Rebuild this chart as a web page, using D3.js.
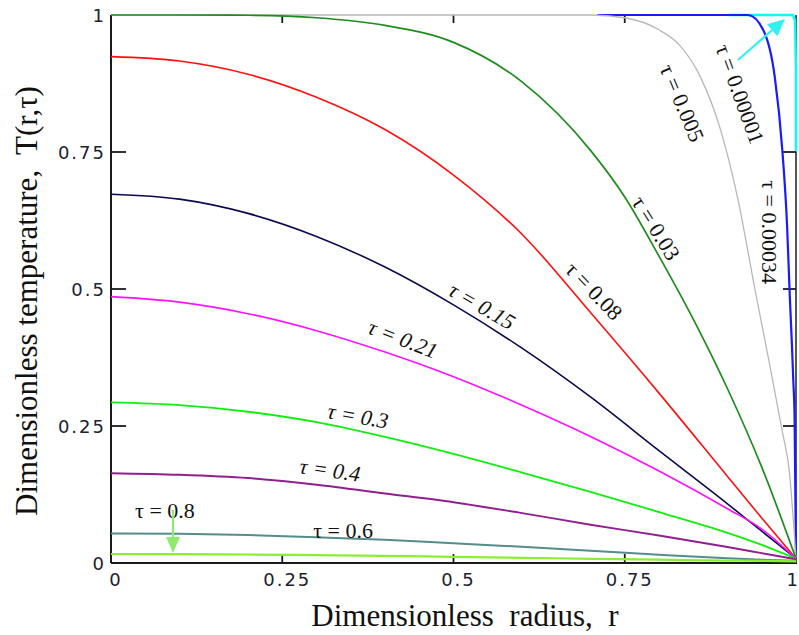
<!DOCTYPE html>
<html><head><meta charset="utf-8">
<script src="https://cdn.jsdelivr.net/npm/d3@7"></script>
<style>body{margin:0;background:#fff}svg{display:block}</style>
</head><body>
<svg id="c" width="799" height="635"></svg>
<script>
// ---- data (r = dimensionless radius, T = temperature) ----
const tauLabels = ["0.00001","0.00034","0.005","0.03","0.08","0.15","0.21","0.3","0.4","0.6","0.8"];

const r_t00001 = [0.9, 0.9955, 0.9985, 1, 1];
const T_t00001 = [1, 1, 0.99, 0.9, 0.75];

const r_t00034 = [0.71, 0.93, 0.952, 0.969, 0.98, 0.987, 0.991, 0.994, 0.996, 0.998, 1];
const T_t00034 = [1, 1, 0.973, 0.887, 0.754, 0.615, 0.485, 0.40, 0.335, 0.261, 0.009];

const r_t0005 = [0, 0.7, 0.75, 0.8, 0.83, 0.86, 0.89, 0.915, 0.94, 0.96, 0.98, 0.99, 1];
const T_t0005 = [1, 1, 0.995, 0.973, 0.945, 0.888, 0.79, 0.665, 0.50, 0.372, 0.24, 0.17, 0.008];

const r_t003 = [0, 0.1, 0.2, 0.3, 0.4, 0.5, 0.6, 0.7, 0.75, 0.8, 0.85, 0.9, 0.95, 1];
const T_t003 = [1, 1, 0.9995, 0.995, 0.981, 0.950, 0.878, 0.753, 0.668, 0.560, 0.445, 0.318, 0.175, 0.008];

const rGrid = [0, 0.1, 0.2, 0.3, 0.4, 0.5, 0.6, 0.7, 0.8, 0.9, 0.95, 1];
const T_t008 = [0.924, 0.916, 0.892, 0.850, 0.791, 0.708, 0.600, 0.457, 0.310, 0.158, 0.082, 0.008];
const T_t015 = [0.673, 0.664, 0.638, 0.596, 0.540, 0.471, 0.392, 0.303, 0.205, 0.108, 0.058, 0.008];
const T_t021 = [0.486, 0.476, 0.455, 0.424, 0.385, 0.340, 0.288, 0.231, 0.168, 0.099, 0.062, 0.008];
const T_t03  = [0.293, 0.288, 0.276, 0.257, 0.230, 0.199, 0.165, 0.130, 0.093, 0.055, 0.033, 0.008];
const T_t04  = [0.164, 0.161, 0.155, 0.143, 0.127, 0.111, 0.091, 0.070, 0.050, 0.029, 0.018, 0.007];
const T_t06  = [0.054, 0.0533, 0.051, 0.047, 0.0425, 0.036, 0.0295, 0.0225, 0.015, 0.0085, 0.006, 0.004];
const T_t08  = [0.0164, 0.0162, 0.0155, 0.0145, 0.013, 0.0113, 0.0095, 0.0077, 0.006, 0.0045, 0.004, 0.003];

const xTicks = [0, 0.25, 0.5, 0.75, 1];
const xTickLabels = ["0", "0.25", "0.5", "0.75", "1"];
const yTicks = [0, 0.25, 0.5, 0.75, 1];
const yTickLabels = ["0", "0.25", "0.5", "0.75", "1"];

const xTitle = "Dimensionless  radius,  r";
const yTitle = "Dimensionless temperature,  T(r,\u03C4)";

// ---- styles (drawing order: first drawn at bottom) ----
const seriesDefs = [
  {r: r_t00034, T: T_t00034, color: "#1a1aff", w: 2.2},
  {r: r_t0005,  T: T_t0005,  color: "#b8b8b8", w: 1.3},
  {r: r_t003,   T: T_t003,   color: "#1e8c1e", w: 1.7},
  {r: rGrid,    T: T_t008,   color: "#ff1010", w: 1.6},
  {r: rGrid,    T: T_t015,   color: "#0a0a50", w: 1.6},
  {r: rGrid,    T: T_t021,   color: "#ff10ff", w: 1.6},
  {r: rGrid,    T: T_t03,    color: "#10ee10", w: 1.8},
  {r: rGrid,    T: T_t04,    color: "#902090", w: 2.0},
  {r: rGrid,    T: T_t06,    color: "#558c8c", w: 2.0},
  {r: rGrid,    T: T_t08,    color: "#88f030", w: 2.2}
];

const labelDefs = [
  {i: 0, r: 0.9182, T: 0.8558, a: 70, it: false},
  {i: 1, r: 0.962,  T: 0.604,  a: 90, it: false},
  {i: 2, r: 0.8336, T: 0.8394, a: 67, it: false},
  {i: 3, r: 0.7956, T: 0.6113, a: 58, it: false},
  {i: 4, r: 0.7051, T: 0.4964, a: 46, it: false},
  {i: 5, r: 0.5416, T: 0.469,  a: 30, it: true},
  {i: 6, r: 0.4263, T: 0.4088, a: 21, it: true},
  {i: 7, r: 0.3606, T: 0.2682, a: 10, it: true},
  {i: 8, r: 0.3197, T: 0.1697, a: 8,  it: true},
  {i: 9, r: 0.3387, T: 0.0602, a: 0,  it: false},
  {i: 10, r: 0.0788, T: 0.0949, a: 0, it: false}
];

const svg = d3.select("#c");
svg.append("rect").attr("width", 799).attr("height", 635).attr("fill", "#fff");

const x = d3.scaleLinear().domain([0, 1]).range([111, 796]);
const y = d3.scaleLinear().domain([0, 1]).range([563, 15]);

const line = d3.line().x((d) => x(d[0])).y((d) => y(d[1])).curve(d3.curveMonotoneX);
const lineLin = d3.line().x((d) => x(d[0])).y((d) => y(d[1]));

// axes lines (left, bottom, right)
const axisCol = "#1a1a1a";
svg.append("line").attr("x1", x(0)).attr("x2", x(0)).attr("y1", y(1)).attr("y2", y(0)).attr("stroke", axisCol).attr("stroke-width", 2);
svg.append("line").attr("x1", x(0)).attr("x2", x(1) + 1).attr("y1", y(0)).attr("y2", y(0)).attr("stroke", axisCol).attr("stroke-width", 2);
svg.append("line").attr("x1", x(1)).attr("x2", x(1)).attr("y1", y(1)).attr("y2", y(0)).attr("stroke", "#444").attr("stroke-width", 1.8);

// tau = 0.00001 (near-step profile), drawn beneath the other curves
svg.append("path").attr("d", lineLin(r_t00001.map((rv, k) => [rv, T_t00001[k]])))
  .attr("fill", "none").attr("stroke", "#00ffff").attr("stroke-width", 2.4);

// inner ticks
const g = svg.append("g").attr("stroke", axisCol).attr("stroke-width", 1.8);
yTicks.filter((v) => v > 0 && v < 1).forEach((v) => {
  g.append("line").attr("x1", x(0)).attr("x2", x(0) + 15).attr("y1", y(v)).attr("y2", y(v));
  g.append("line").attr("x1", x(1)).attr("x2", x(1) - 13).attr("y1", y(v)).attr("y2", y(v));
});
xTicks.filter((v) => v > 0 && v < 1).forEach((v) => {
  g.append("line").attr("x1", x(v)).attr("x2", x(v)).attr("y1", y(0)).attr("y2", y(0) - 9);
  g.append("line").attr("x1", x(v)).attr("x2", x(v)).attr("y1", y(1)).attr("y2", y(1) + 8);
});

// curves
seriesDefs.forEach((s) => {
  const pts = s.r.map((rv, k) => [rv, s.T[k]]);
  svg.append("path").attr("d", line(pts)).attr("fill", "none")
    .attr("stroke", s.color).attr("stroke-width", s.w).attr("stroke-linejoin", "round");
});

// tick labels
const tf = "'DejaVu Sans', Verdana, sans-serif";
xTicks.forEach((v, k) => {
  const last = k === xTicks.length - 1;
  svg.append("text").attr("x", last ? 800 : x(v) + 5).attr("y", 586)
    .attr("text-anchor", last ? "end" : "middle")
    .attr("font-family", tf).attr("font-size", 18).attr("letter-spacing", 2).attr("fill", "#202030")
    .text(xTickLabels[k]);
});
yTicks.forEach((v, k) => {
  svg.append("text").attr("x", 106).attr("y", y(v) + 7).attr("text-anchor", "end")
    .attr("font-family", tf).attr("font-size", 18).attr("letter-spacing", 2).attr("fill", "#202030")
    .text(yTickLabels[k]);
});

// axis titles
const sf = "'Liberation Serif', 'Times New Roman', serif";
svg.append("text").attr("x", 465).attr("y", 626).attr("text-anchor", "middle")
  .attr("font-family", sf).attr("font-size", 31).attr("fill", "#111")
  .style("white-space", "pre").text(xTitle);
svg.append("text").attr("transform", "translate(37,301) rotate(-90)").attr("text-anchor", "middle")
  .attr("font-family", sf).attr("font-size", 31).attr("fill", "#111")
  .style("white-space", "pre").text(yTitle);

// curve labels
labelDefs.forEach((L) => {
  svg.append("text")
    .attr("transform", `translate(${x(L.r)},${y(L.T)}) rotate(${L.a})`)
    .attr("text-anchor", "middle").attr("dominant-baseline", "central")
    .attr("font-family", sf).attr("font-size", 22).attr("font-style", L.it ? "italic" : "normal")
    .attr("fill", "#111")
    .text("\u03C4 = " + tauLabels[L.i]);
});

// arrows
function arrow(r0, T0, r1, T1, col, hl, hw) {
  const x0 = x(r0), y0 = y(T0), x1 = x(r1), y1 = y(T1);
  const ang = Math.atan2(y1 - y0, x1 - x0);
  const bx = x1 - hl * Math.cos(ang), by = y1 - hl * Math.sin(ang);
  svg.append("line").attr("x1", x0).attr("y1", y0).attr("x2", bx).attr("y2", by)
    .attr("stroke", col).attr("stroke-width", 2.2);
  const px = -Math.sin(ang) * hw, py = Math.cos(ang) * hw;
  svg.append("path").attr("d", `M${x1},${y1}L${bx + px},${by + py}L${bx - px},${by - py}Z`).attr("fill", col);
}
arrow(0.9153, 0.9179, 0.9839, 0.9927, "#33f0f0", 17, 8);
arrow(0.0905, 0.0967, 0.0905, 0.0182, "#90ea70", 16, 7);
</script>
</body></html>
